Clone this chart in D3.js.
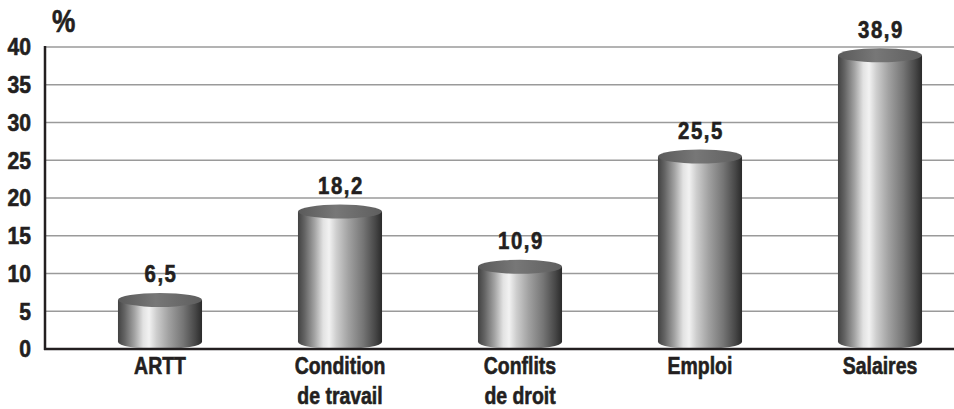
<!DOCTYPE html>
<html>
<head>
<meta charset="utf-8">
<script src="https://cdn.jsdelivr.net/npm/d3@7"></script>
<style>
  html, body { margin: 0; padding: 0; background: #fff; }
  svg { display: block; }
  text { font-family: "Liberation Sans", Arial, sans-serif; font-weight: bold; fill: #231f20;
         stroke: #231f20; stroke-width: 0.6; }
</style>
</head>
<body>
<svg id="chart" width="954" height="409"></svg>
<script>
// Motifs de grève : part des établissements concernés (%)
const categories = [["ARTT"], ["Condition", "de travail"], ["Conflits", "de droit"], ["Emploi"], ["Salaires"]];
const values = [6.5, 18.2, 10.9, 25.5, 38.9];
const valueLabels = ["6,5", "18,2", "10,9", "25,5", "38,9"];
const yTicks = [0, 5, 10, 15, 20, 25, 30, 35, 40];
const unitLabel = "%";

const W = 954, H = 409;
const svg = d3.select("#chart");

const x = d3.scaleBand()
  .domain(d3.range(categories.length))
  .range([70, 970])
  .paddingInner(0.533)
  .paddingOuter(0.2665);

const y = d3.scaleLinear().domain([0, 40]).range([349, 47]);

const defs = svg.append("defs");
const bodyGrad = defs.append("linearGradient").attr("id", "cylBody")
  .attr("x1", "0%").attr("x2", "100%").attr("y1", "0%").attr("y2", "0%");
[
  [0, "#424242"], [0.08, "#646464"], [0.2, "#a4a4a4"], [0.3, "#e2e2e2"],
  [0.37, "#f2f2f2"], [0.46, "#cdcdcd"], [0.6, "#a2a2a2"], [0.78, "#747474"],
  [0.92, "#474747"], [1, "#2a2a2a"]
].forEach(([o, c]) => bodyGrad.append("stop").attr("offset", o).attr("stop-color", c));

const capGrad = defs.append("linearGradient").attr("id", "cylTop")
  .attr("x1", "0%").attr("x2", "100%").attr("y1", "0%").attr("y2", "0%");
[[0, "#5a5a5a"], [0.45, "#777777"], [1, "#5e5e5e"]]
  .forEach(([o, c]) => capGrad.append("stop").attr("offset", o).attr("stop-color", c));

// grid lines
svg.append("g").selectAll("line")
  .data(yTicks.filter(d => d > 0))
  .join("line")
  .attr("x1", 45).attr("x2", W)
  .attr("y1", d => y(d)).attr("y2", d => y(d))
  .attr("stroke", "#9a9a9a").attr("stroke-width", 1.3);

// y tick labels (condensed bold face)
svg.append("g").selectAll("text")
  .data(yTicks)
  .join("text")
  .attr("transform", d => `translate(31,${y(d)}) scale(0.92,1)`)
  .attr("dy", "0.36em")
  .attr("text-anchor", "end")
  .attr("font-size", 23)
  .text(d => d);

svg.append("text")
  .attr("transform", "translate(52,32) scale(0.82,1)")
  .attr("font-size", 32)
  .text(unitLabel);

// cylinders
const ry = 7;
const bw = x.bandwidth();
const g = svg.append("g").selectAll("g")
  .data(values.map((v, i) => ({ v, i })))
  .join("g")
  .attr("transform", d => `translate(${x(d.i) + bw / 2},0)`);

g.append("path")
  .attr("fill", "url(#cylBody)")
  .attr("d", d => {
    const yt = y(d.v), yb = y(0) - ry, r = bw / 2;
    return `M${-r},${yt} L${-r},${yb} A${r},${ry} 0 0 0 ${r},${yb} L${r},${yt} Z`;
  });

g.append("ellipse")
  .attr("cx", 0).attr("cy", d => y(d.v))
  .attr("rx", bw / 2).attr("ry", ry)
  .attr("fill", "url(#cylTop)");

g.append("text")
  .attr("transform", d => `translate(1,${y(d.v) - 17.5}) scale(0.85,1)`)
  .attr("text-anchor", "middle")
  .attr("font-size", 24)
  .attr("letter-spacing", 1.8)
  .text(d => valueLabels[d.i]);

// axes lines
svg.append("line").attr("x1", 45).attr("x2", 45).attr("y1", 46).attr("y2", 350)
  .attr("stroke", "#231f20").attr("stroke-width", 2.5);
svg.append("line").attr("x1", 44).attr("x2", W).attr("y1", 349).attr("y2", 349)
  .attr("stroke", "#231f20").attr("stroke-width", 2.5);

// category labels
const cl = svg.append("g").selectAll("text")
  .data(categories)
  .join("text")
  .attr("transform", (d, i) => `translate(${x(i) + bw / 2},374) scale(0.81,1)`)
  .attr("text-anchor", "middle")
  .attr("font-size", 24);
cl.selectAll("tspan")
  .data(d => d)
  .join("tspan")
  .attr("x", 0)
  .attr("dy", (d, j) => j === 0 ? 0 : 30.5)
  .text(d => d);
</script>
</body>
</html>
